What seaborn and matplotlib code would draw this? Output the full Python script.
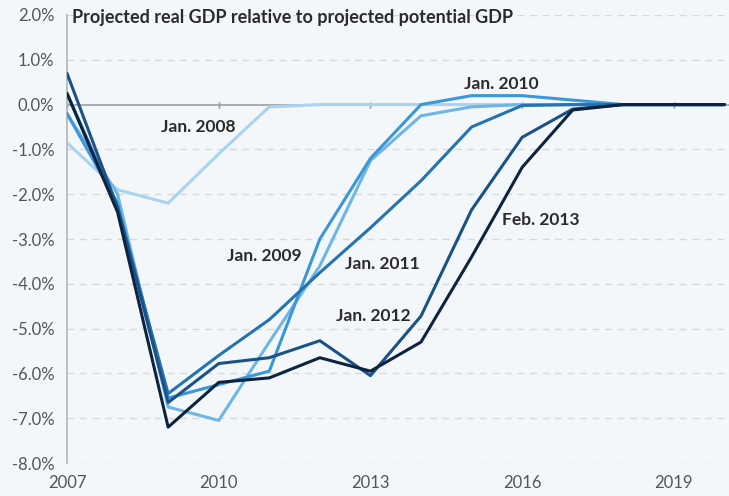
import pandas as pd
import numpy as np
import seaborn as sns
import matplotlib.pyplot as plt

years = list(range(2007, 2021))

# projected output gap, percent of potential GDP, by projection vintage
jan_2008 = [-0.85, -1.9, -2.2, -1.1, -0.05, 0, 0, 0, 0, 0, 0, 0, 0, 0]
jan_2009 = [-0.2, -2.0, -6.75, -7.05, -5.3, -3.6, -1.25, -0.25, -0.05, 0, 0, 0, 0, 0]
jan_2010 = [-0.2, -2.2, -6.55, -6.25, -5.95, -3.0, -1.2, 0.0, 0.2, 0.2, 0.1, 0, 0, 0]
jan_2011 = [0.25, -2.3, -6.45, -5.6, -4.8, -3.75, -2.75, -1.7, -0.5, -0.02, 0, 0, 0, 0]
jan_2012 = [0.7, -2.3, -6.65, -5.78, -5.65, -5.27, -6.05, -4.72, -2.35, -0.73, -0.1, 0, 0, 0]
feb_2013 = [0.25, -2.4, -7.2, -6.2, -6.1, -5.65, -5.95, -5.3, -3.4, -1.4, -0.12, 0, 0, 0]

vintages = ["Jan. 2008", "Jan. 2009", "Jan. 2010", "Jan. 2011", "Jan. 2012", "Feb. 2013"]
colors = ["#a9d3ef", "#6fb6e6", "#3b97d7", "#2473b3", "#1b5286", "#0e2340"]

# label positions (year, value)
label_x = [2009.59, 2010.9, 2015.58, 2013.23, 2013.05, 2016.37]
label_y = [-0.49, -3.37, 0.45, -3.55, -4.71, -2.57]

y_ticks = [2, 1, 0, -1, -2, -3, -4, -5, -6, -7, -8]
x_ticks = [2007, 2010, 2013, 2016, 2019]

df = pd.DataFrame({
    "year": years * 6,
    "gap": jan_2008 + jan_2009 + jan_2010 + jan_2011 + jan_2012 + feb_2013,
    "vintage": np.repeat(vintages, len(years)),
})

sns.set_style("white")
bg = "#f4f7f9"
plt.rcParams["font.family"] = ["Lato", "DejaVu Sans"]

fig = plt.figure(figsize=(7.29, 4.96), dpi=100, facecolor=bg)
ax = fig.add_axes([67 / 729, 1 - 463 / 496, 662 / 729, 448 / 496])
ax.set_facecolor(bg)

# grid lines
for v in y_ticks:
    if v != 0:
        ax.axhline(v, color="#d6d9dc", lw=1, ls=(0, (5, 4)), zorder=0)
ax.axhline(0, color="#9a9ea2", lw=1.2, zorder=1)

sns.lineplot(data=df, x="year", y="gap", hue="vintage", palette=dict(zip(vintages, colors)),
             linewidth=2.2, legend=False, ax=ax, zorder=3)

for name, lx, ly in zip(vintages, label_x, label_y):
    ax.text(lx, ly, name, ha="center", va="center", fontsize=12.5, fontweight="bold",
            color="#2b2b2b", zorder=5)

ax.text(0.008, 0.9955, "Projected real GDP relative to projected potential GDP",
        transform=ax.transAxes, ha="left", va="center", fontsize=13,
        fontweight="bold", color="#2b2b2b")

ax.set_xlim(2007, 2020.09)
ax.set_ylim(-8, 2)
ax.set_yticks(y_ticks)
ax.set_yticklabels([f"{v:.1f}%" for v in y_ticks])
ax.set_xticks(x_ticks)
ax.set_xticklabels([str(v) for v in x_ticks])
ax.tick_params(axis="y", length=0, pad=9, labelsize=12, labelcolor="#555555")
ax.tick_params(axis="x", length=0, pad=9, labelsize=12, labelcolor="#555555")
ax.set_xlabel("")
ax.set_ylabel("")

for s in ["top", "right", "bottom"]:
    ax.spines[s].set_visible(False)
ax.spines["left"].set_color("#b0b4b8")
ax.spines["left"].set_linewidth(1.2)

# small tick marks along the zero line
secx = ax.secondary_xaxis(0.8)
secx.set_xticks(x_ticks)
secx.set_xticklabels([])
secx.tick_params(axis="x", which="major", top=True, bottom=True, direction="inout",
                 length=5, width=1, color="#9a9ea2", labelbottom=False, labeltop=False)
for s in secx.spines.values():
    s.set_visible(False)

fig.savefig("out.png", dpi=100, facecolor=bg)
